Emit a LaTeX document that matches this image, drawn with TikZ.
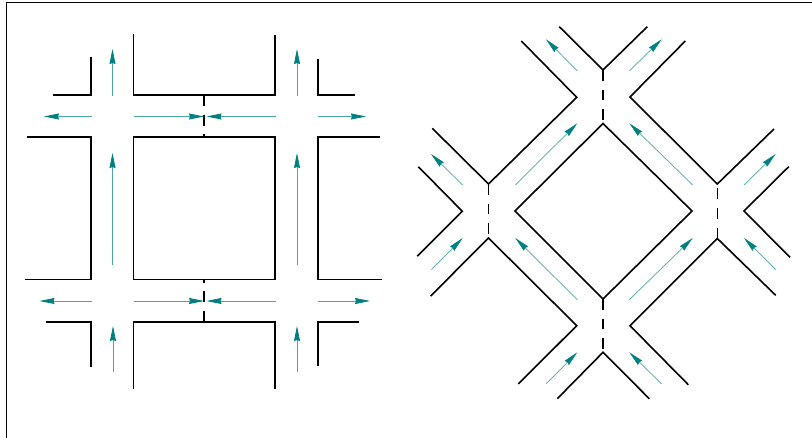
\documentclass[tikz,border=0pt]{standalone}
\usepackage[dvipsnames,table]{xcolor}
\usepackage{tikz}
\usetikzlibrary{arrows.meta}

\begin{document}
\begin{tikzpicture}[
  x=1pt, y=-1pt,
  line join=miter,
  frameline/.style={draw=black, line width=1pt},
  wall/.style={draw=black, line width=1.6pt},
  gate/.style={draw=black, line width=1.6pt, dash pattern=on 11pt off 8.6pt},
  gateB/.style={gate, dash pattern=on 10.7pt off 9pt},
  flow/.style={-{Stealth[length=15pt, width=6pt, inset=1pt, color=teal, fill=teal]}, draw=teal!70!white, line width=0.8pt},
  flowB/.style={flow, line width=0.7pt},
]
  \useasboundingbox (0,0) rectangle (812,438);
  \draw[frameline] (6.5,438) -- (6.5,2.3) -- (812,2.3);

  % Square junction: walls
  \draw[wall] (52.5,95) -- (91,95) -- (91,57);
  \draw[wall] (133.5,34) -- (133.5,95) -- (275,95) -- (275,35);
  \draw[wall] (318,59) -- (318,95) -- (355,95);
  \draw[wall] (27,137) -- (91,137) -- (91,279.5) -- (25,279.5);
  \draw[wall] (133.5,137) rectangle (275,279.5);
  \draw[wall] (380,137) -- (318,137) -- (318,279.5) -- (381.5,279.5);
  \draw[wall] (46,322) -- (91,322) -- (91,367);
  \draw[wall] (133.5,389) -- (133.5,322) -- (275,322) -- (275,389);
  \draw[wall] (318,366) -- (318,322) -- (359,322);
  % Square junction: gates
  \draw[gate] (204,95) -- (204,137);
  \draw[gate] (204,322) -- (204,279.5);
  % Square junction: flows
  \draw[flow] (112.5,96) -- (112.5,49);
  \draw[flow] (297,96) -- (297,49);
  \draw[flow] (112.5,265) -- (112.5,153);
  \draw[flow] (297,265) -- (297,153);
  \draw[flow] (113,372.5) -- (113,326);
  \draw[flow] (297,372.5) -- (297,326);
  \draw[flow] (91.5,116.5) -- (44,116.5);
  \draw[flow] (133.5,116.5) -- (204,116.5);
  \draw[flow] (276,116.5) -- (206.5,116.5);
  \draw[flow] (318,116.5) -- (366,116.5);
  \draw[flow] (91.5,301) -- (39.5,301);
  \draw[flow] (133.5,301) -- (204,301);
  \draw[flow] (276,301) -- (206.5,301);
  \draw[flow] (318,301) -- (370,301);

  % Diamond junction: walls
  \draw[wall] (603,123.5) -- (692,211) -- (603,299) -- (515,211) -- cycle;
  \draw[wall] (559.3,26.7) -- (603,70) -- (647.3,26.7);
  \draw[wall] (521.3,41) -- (576.7,97.3) -- (488.5,184) -- (432.3,128.3);
  \draw[wall] (685.3,41) -- (630,97) -- (717.3,184) -- (774,129);
  \draw[wall] (418.3,166.7) -- (462.3,211.3) -- (417.3,256.3);
  \draw[wall] (788.7,166.7) -- (744,211) -- (790,257.3);
  \draw[wall] (430.7,296) -- (488.5,238) -- (576.7,325.7) -- (518.3,384);
  \draw[wall] (775.7,295.3) -- (717.3,238.5) -- (630,325.7) -- (688.3,384.7);
  \draw[wall] (557.3,398.7) -- (603,352.3) -- (649.3,398.7);
  % Diamond junction: gates
  \draw[gateB] (603,70) -- (603,123.5);
  \draw[gateB] (603,299) -- (603,352.3);
  \draw[gateB] (488.5,184) -- (488.5,238);
  \draw[gateB] (717.3,238.5) -- (717.3,186);
  % Diamond junction: flows
  \draw[flowB] (577.3,71) -- (546,39.3);
  \draw[flowB] (629.3,71) -- (661.7,39.3);
  \draw[flowB] (515.3,185) -- (577.3,123.3);
  \draw[flowB] (692.7,185) -- (629.3,123.3);
  \draw[flowB] (462.7,185) -- (431,154);
  \draw[flowB] (744,185) -- (775.7,154);
  \draw[flowB] (431.3,269.7) -- (462.7,238);
  \draw[flowB] (577.3,299.7) -- (515.3,238);
  \draw[flowB] (629.3,299.7) -- (692.7,238);
  \draw[flowB] (775.7,269.7) -- (744,238);
  \draw[flowB] (546,384) -- (577.3,352.3);
  \draw[flowB] (661.7,384) -- (629.3,352.3);
\end{tikzpicture}
\end{document}
